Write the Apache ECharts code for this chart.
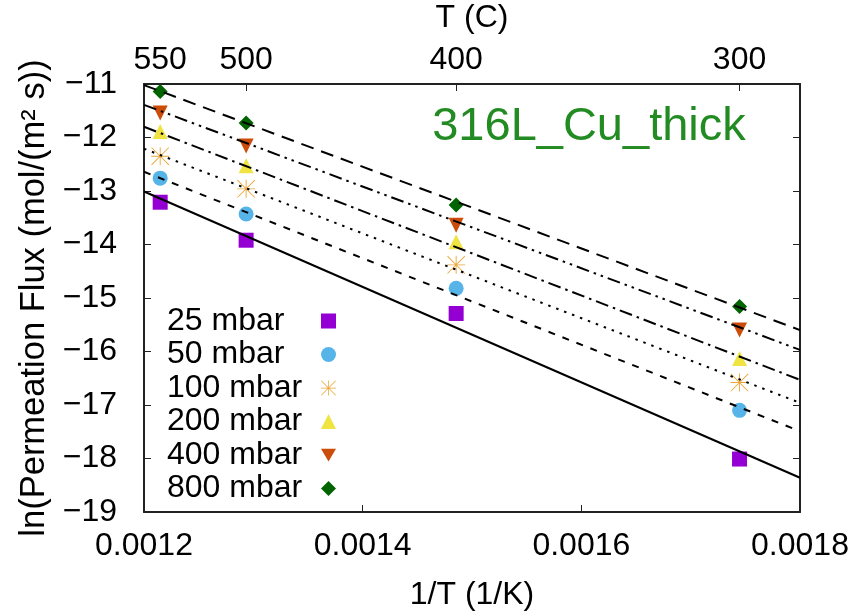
<!DOCTYPE html>
<html>
<head>
<meta charset="utf-8">
<script src="https://cdn.jsdelivr.net/npm/echarts@6/dist/echarts.min.js"></script>
<style>
html,body{margin:0;padding:0;background:#fff;}
#chart{width:861px;height:613px;}
</style>
</head>
<body>
<div id="chart"></div>
<script>
// 1/T (1/K) positions of the measurements (550, 500, 400, 300 C)
const xVals = [0.0012148, 0.0012934, 0.0014855, 0.0017447];
const topTickValues = [0.0012148, 0.0012934, 0.0014855, 0.0017447];
const topTickLabels = ['550', '500', '400', '300'];
const seriesNames = ['25 mbar', '50 mbar', '100 mbar', '200 mbar', '400 mbar', '800 mbar'];
const y25  = [-13.21, -13.92, -15.29, -18.01];
const y50  = [-12.76, -13.43, -14.82, -17.10];
const y100 = [-12.35, -12.96, -14.38, -16.58];
const y200 = [-11.89, -12.53, -13.95, -16.13];
const y400 = [-11.54, -12.16, -13.64, -15.60];
const y800 = [-11.14, -11.73, -13.26, -15.16];
// fitted lines, values at x = 0.0012 and x = 0.0018
const fitX = [0.0012, 0.0018];
const fit25  = [-13.01, -18.36];
const fit50  = [-12.64, -17.49];
const fit100 = [-12.21, -16.96];
const fit200 = [-11.80, -16.53];
const fit400 = [-11.39, -15.97];
const fit800 = [-11.02, -15.60];

const FONT = 'Liberation Sans';
const ys = [y25, y50, y100, y200, y400, y800];
const fits = [fit25, fit50, fit100, fit200, fit400, fit800];
const colors = ['#9400d3', '#56b4e9', '#eca63a', '#f0e442', '#cc4c0a', '#006400'];
const asterisk = 'path://M0,9.5L20,9.5L20,10.5L0,10.5Z M9.5,0L10.5,0L10.5,20L9.5,20Z M0.7,0L20,19.3L19.3,20L0,0.7Z M19.3,0L20,0.7L0.7,20L0,19.3Z';
const downTri = 'path://M0,0L20,0L10,17Z';
const symbols = ['rect', 'circle', asterisk, 'triangle', downTri, 'diamond'];
const sizes = [15, 15, 18, 15, 15, 15];
const dashes = ['solid', [7, 8], [2.5, 6], [13, 5, 2.5, 5], [13, 5, 2.5, 5, 2.5, 5], [13, 8]];

const series = [];
for (let i = 0; i < 6; i++) {
  series.push({
    name: seriesNames[i],
    type: 'scatter',
    xAxisIndex: 0, yAxisIndex: 0,
    symbol: symbols[i],
    symbolSize: sizes[i],
    itemStyle: {color: colors[i], opacity: 1},
    data: xVals.map((x, j) => [x, ys[i][j]]),
    z: 2
  });
}
for (let i = 0; i < 6; i++) {
  series.push({
    name: seriesNames[i] + ' fit',
    type: 'line',
    xAxisIndex: 0, yAxisIndex: 0,
    showSymbol: false,
    silent: true,
    lineStyle: {color: '#000', width: 2, type: dashes[i]},
    data: fitX.map((x, j) => [x, fits[i][j]]),
    z: 3
  });
}

const chart = echarts.init(document.getElementById('chart'), null, {renderer: 'canvas'});
chart.setOption({
  animation: false,
  backgroundColor: '#fff',
  textStyle: {fontFamily: FONT},
  grid: {left: 144, right: 61, top: 84, bottom: 101, containLabel: false, outerBoundsMode: 'none'},
  legend: {
    data: seriesNames,
    orient: 'vertical',
    left: 167, top: 305,
    padding: 0,
    align: 'right',
    itemGap: 1.5,
    itemWidth: 15, itemHeight: 15,
    formatter: name => '{t|' + name + '}',
    textStyle: {fontFamily: FONT, fontSize: 32, color: '#000',
      rich: {t: {fontFamily: FONT, fontSize: 32, color: '#000', width: 149, align: 'left', lineHeight: 33.6}}}
  },
  xAxis: [{
    type: 'value', position: 'bottom',
    min: 0.0012, max: 0.0018, interval: 0.0002,
    name: '1/T (1/K)', nameLocation: 'middle', nameGap: 67,
    nameTextStyle: {fontFamily: FONT, fontSize: 32, color: '#000'},
    axisLine: {show: true, onZero: false, lineStyle: {color: '#222', width: 2}},
    axisTick: {show: true, inside: true, length: 7, lineStyle: {color: '#222', width: 1}},
    axisLabel: {fontFamily: FONT, fontSize: 32, color: '#000', margin: 18,
      formatter: v => v.toFixed(4)},
    splitLine: {show: false}
  }, {
    type: 'value', position: 'top',
    min: 0.0012, max: 0.0018,
    name: 'T (C)', nameLocation: 'middle', nameGap: 50,
    nameTextStyle: {fontFamily: FONT, fontSize: 32, color: '#000'},
    axisLine: {show: true, onZero: false, lineStyle: {color: '#222', width: 2}},
    axisTick: {show: true, inside: true, length: 7, customValues: topTickValues, lineStyle: {color: '#222', width: 1}},
    axisLabel: {fontFamily: FONT, fontSize: 32, color: '#000', margin: 8,
      customValues: topTickValues,
      formatter: v => {
        let best = 0;
        for (let k = 1; k < topTickValues.length; k++) {
          if (Math.abs(topTickValues[k] - v) < Math.abs(topTickValues[best] - v)) best = k;
        }
        return topTickLabels[best];
      }},
    splitLine: {show: false}
  }],
  yAxis: [{
    type: 'value', position: 'left',
    min: -19, max: -11, interval: 1,
    name: 'ln(Permeation Flux (mol/(m² s))', nameLocation: 'middle', nameGap: 80,
    nameTextStyle: {fontFamily: FONT, fontSize: 34.5, color: '#000'},
    axisLine: {show: true, onZero: false, lineStyle: {color: '#222', width: 2}},
    axisTick: {show: true, inside: true, length: 7, lineStyle: {color: '#222', width: 1}},
    axisLabel: {fontFamily: FONT, fontSize: 32, color: '#000', margin: 27,
      formatter: v => (v < 0 ? '\u2212' + Math.abs(v) : String(v))},
    splitLine: {show: false}
  }, {
    type: 'value', position: 'right',
    min: -19, max: -11, interval: 1,
    axisLine: {show: true, onZero: false, lineStyle: {color: '#222', width: 2}},
    axisTick: {show: true, inside: true, length: 7, lineStyle: {color: '#222', width: 1}},
    axisLabel: {show: false},
    splitLine: {show: false}
  }],
  graphic: [{
    type: 'text',
    x: 589, y: 127,
    style: {text: '316L_Cu_thick', fontFamily: FONT, fontSize: 47, fill: '#228b22',
      align: 'center', verticalAlign: 'middle'}
  }],
  series: series
});
</script>
</body>
</html>
